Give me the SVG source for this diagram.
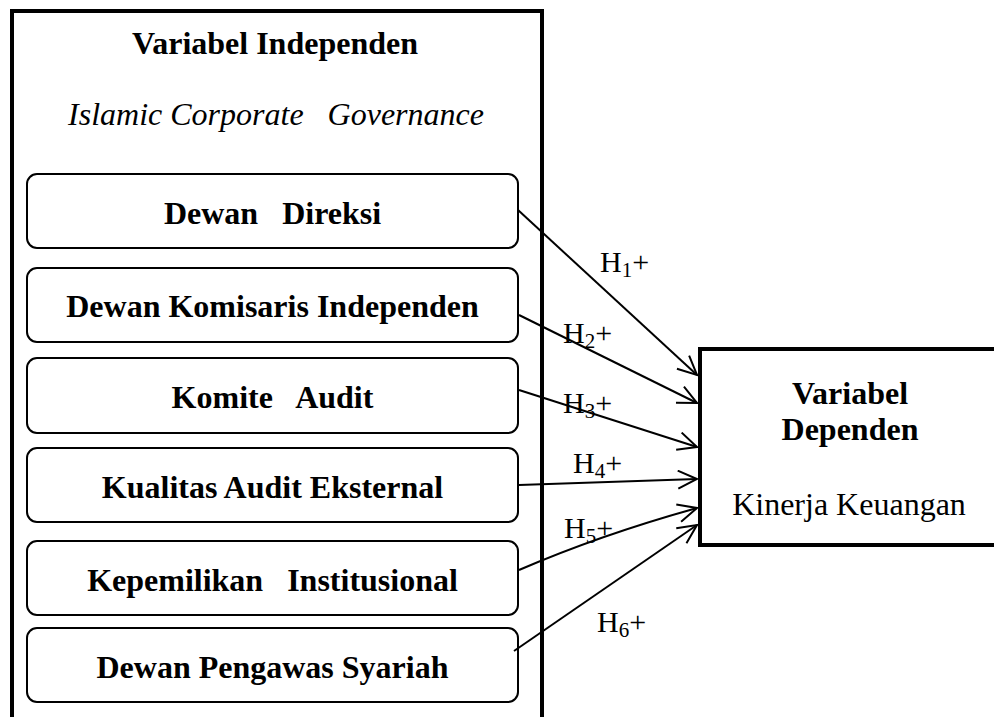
<svg xmlns="http://www.w3.org/2000/svg" width="994" height="717" viewBox="0 0 994 717">
<defs>
<style>
text{font-family:"Liberation Serif","Times New Roman",serif;fill:#000;white-space:pre}
.b{font-weight:bold;font-size:32px}
.r{font-size:32px}
.it{font-style:italic;font-size:32px}
.h{font-size:30px}
.node{fill:#fff;stroke:#000;stroke-width:2}
.frame{fill:none;stroke:#000;stroke-width:4}
.edge{fill:none;stroke:#000;stroke-width:2}
</style>
<marker id="arr" viewBox="-20 -10 22 20" refX="0" refY="0" markerWidth="22" markerHeight="20" markerUnits="userSpaceOnUse" orient="auto">
<path d="M-19,-9 L0,0 L-19,9" fill="none" stroke="#000" stroke-width="2"/>
</marker>
</defs>
<rect width="994" height="717" fill="#fff"/>
<g id="independen">
<path class="frame" d="M12,720 V11 H542 V720"/>
<text class="b" x="275" y="54" text-anchor="middle">Variabel Independen</text>
<text class="it" x="276" y="125" text-anchor="middle">Islamic Corporate   Governance</text>
</g>
<g id="n1"><rect class="node" x="27" y="174" width="491" height="74" rx="10"/><text class="b" x="272.5" y="224" text-anchor="middle">Dewan   Direksi</text></g>
<g id="n2"><rect class="node" x="27" y="268" width="491" height="74" rx="10"/><text class="b" x="272.5" y="317" text-anchor="middle">Dewan Komisaris Independen</text></g>
<g id="n3"><rect class="node" x="27" y="358" width="491" height="75" rx="10"/><text class="b" x="272.5" y="408" text-anchor="middle">Komite   Audit</text></g>
<g id="n4"><rect class="node" x="27" y="448" width="491" height="74" rx="10"/><text class="b" x="272.5" y="498" text-anchor="middle">Kualitas Audit Eksternal</text></g>
<g id="n5"><rect class="node" x="27" y="541" width="491" height="74" rx="10"/><text class="b" x="272.5" y="591" text-anchor="middle">Kepemilikan   Institusional</text></g>
<g id="n6"><rect class="node" x="27" y="628" width="491" height="74" rx="10"/><text class="b" x="272.5" y="678" text-anchor="middle">Dewan Pengawas Syariah</text></g>
<g id="dependen">
<path class="frame" d="M1000,349 H700 V545 H1000"/>
<text class="b" x="850" y="404" text-anchor="middle">Variabel</text>
<text class="b" x="850" y="440" text-anchor="middle">Dependen</text>
<text class="r" x="849" y="515" text-anchor="middle">Kinerja Keuangan</text>
</g>
<g id="connectors">
<path class="edge" d="M518,210 L697,375" marker-end="url(#arr)"/>
<path class="edge" d="M519,315 L697,403" marker-end="url(#arr)"/>
<path class="edge" d="M519,390 L697,447" marker-end="url(#arr)"/>
<path class="edge" d="M519,485 L697,479" marker-end="url(#arr)"/>
<path class="edge" d="M519,570 Q600,535 697,508" marker-end="url(#arr)"/>
<path class="edge" d="M514,651 L697,525" marker-end="url(#arr)"/>
<text class="h" x="600" y="272">H<tspan font-size="21" dy="5">1</tspan><tspan dy="-5">+</tspan></text>
<text class="h" x="563" y="343">H<tspan font-size="21" dy="5">2</tspan><tspan dy="-5">+</tspan></text>
<text class="h" x="563" y="413">H<tspan font-size="21" dy="5">3</tspan><tspan dy="-5">+</tspan></text>
<text class="h" x="573" y="473">H<tspan font-size="21" dy="5">4</tspan><tspan dy="-5">+</tspan></text>
<text class="h" x="564" y="538">H<tspan font-size="21" dy="5">5</tspan><tspan dy="-5">+</tspan></text>
<text class="h" x="597" y="632">H<tspan font-size="21" dy="5">6</tspan><tspan dy="-5">+</tspan></text>
</g>
</svg>
